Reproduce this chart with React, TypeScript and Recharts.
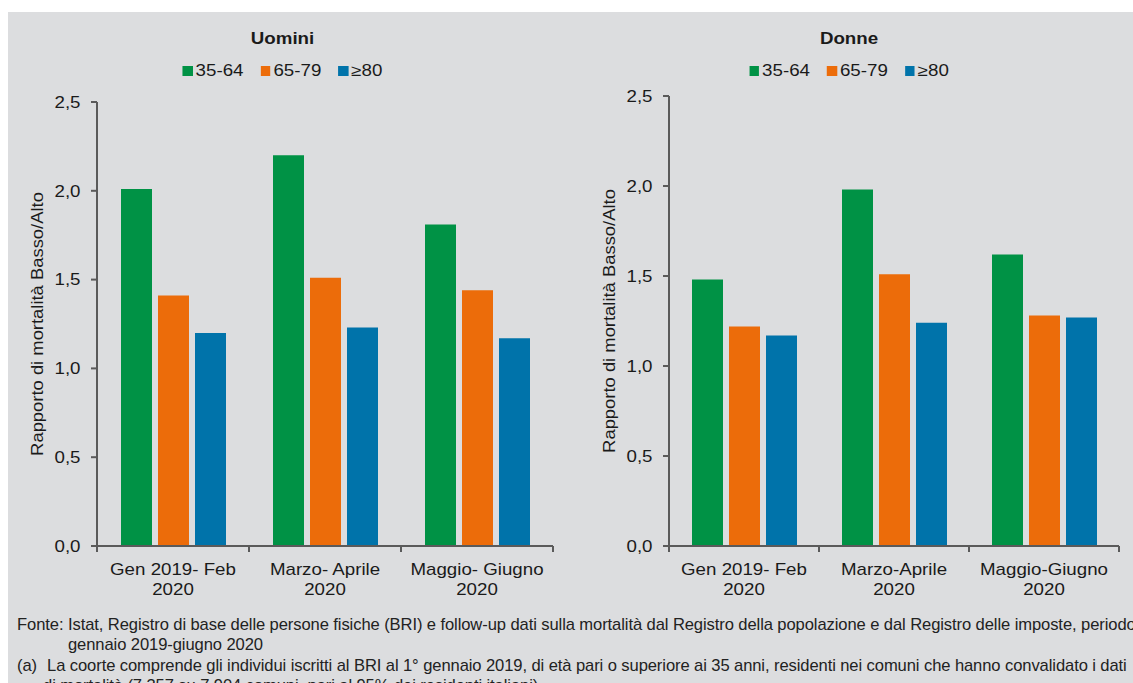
import { BarChart, Bar, XAxis, YAxis, Legend } from "recharts"

// age classes and periods
const ageGroups = ["35-64", "65-79", "≥80"]
const periodsUomini = ["Gen 2019- Feb 2020", "Marzo- Aprile 2020", "Maggio- Giugno 2020"]
const periodsDonne = ["Gen 2019- Feb 2020", "Marzo-Aprile 2020", "Maggio-Giugno 2020"]

// rapporto di mortalità basso/alto
const uomini3564 = [2.01, 2.2, 1.81]
const uomini6579 = [1.41, 1.51, 1.44]
const uomini80 = [1.2, 1.23, 1.17]
const donne3564 = [1.48, 1.98, 1.62]
const donne6579 = [1.22, 1.51, 1.28]
const donne80 = [1.17, 1.24, 1.27]

const yTicks = [0, 0.5, 1, 1.5, 2, 2.5]

const colors = ["#009245", "#ec6c0a", "#0073aa"]
const GRAY = "#dcdddf"
const AXIS = "#5a5a5a"
const TEXT = "#1a1a1a"
const FONT = '"Liberation Sans", Arial, sans-serif'
const SX = 1.17

const fmt = (v: number) => v.toFixed(1).replace(".", ",")

function XTick(props: any) {
  const { x, y, payload, index, visibleTicksCount, width } = props
  const half = payload?.offset ?? width / visibleTicksCount / 2
  const label = String(payload.value)
  const cut = label.lastIndexOf(" ")
  const lines = [label.slice(0, cut), label.slice(cut + 1)]
  return (
    <g>
      <line x1={x - half} x2={x - half} y1={y} y2={y + 6} stroke={AXIS} strokeWidth={2} />
      {index === visibleTicksCount - 1 && (
        <line x1={x + half} x2={x + half} y1={y} y2={y + 6} stroke={AXIS} strokeWidth={2} />
      )}
      {lines.map((l, i) => (
        <text
          key={i}
          transform={`translate(${x} ${y + 28.5 + i * 20}) scale(${SX} 1)`}
          textAnchor="middle"
          fontSize={16}
          fontFamily={FONT}
          fill={TEXT}
        >
          {l}
        </text>
      ))}
    </g>
  )
}

function YTick(props: any) {
  const { x, y, payload } = props
  return (
    <text
      transform={`translate(${x} ${y}) scale(${SX} 1)`}
      textAnchor="end"
      dy="0.36em"
      fontSize={16}
      fontFamily={FONT}
      fill={TEXT}
    >
      {fmt(payload.value)}
    </text>
  )
}

function YLabel(props: any) {
  const vb = props.viewBox
  if (!vb) return null
  const cx = vb.x + 6
  const cy = vb.y + vb.height / 2
  return (
    <text
      transform={`translate(${cx} ${cy}) rotate(-90) scale(1.15 1)`}
      textAnchor="middle"
      fontSize={16}
      fontFamily={FONT}
      fill={TEXT}
    >
      Rapporto di mortalità Basso/Alto
    </text>
  )
}

const legendContent = (title: string) => (props: any) => {
  const items = props.payload ?? []
  return (
    <div style={{ transform: `scaleX(${SX})`, color: TEXT, fontFamily: FONT, textAlign: "center" }}>
      <div style={{ fontWeight: "bold", fontSize: 16, lineHeight: "20px" }}>{title}</div>
      <div style={{ display: "flex", justifyContent: "center", marginTop: 12, fontSize: 16, lineHeight: "20px" }}>
        {items.map((it: any, i: number) => (
          <div key={i} style={{ display: "flex", alignItems: "center", marginLeft: i ? 14.5 : 0 }}>
            <span style={{ display: "inline-block", width: 8.5, height: 10, background: it.color, marginRight: 2.6 }} />
            <span>{it.value}</span>
          </div>
        ))}
      </div>
    </div>
  )
}

function Panel(props: any) {
  const { title, periods, series, left, width, margin, legendWidth } = props
  const data = periods.map((period: string, i: number) => ({
    period,
    g0: series[0][i],
    g1: series[1][i],
    g2: series[2][i],
  }))
  return (
    <div style={{ position: "absolute", left, top: 0 }}>
      <BarChart width={width} height={610} data={data} margin={margin} barSize={31} barGap={6}>
        <Legend
          verticalAlign="middle"
          align="center"
          layout="horizontal"
          wrapperStyle={{ top: 28.5, left: 0, width: legendWidth }}
          content={legendContent(title)}
        />
        <XAxis
          dataKey="period"
          axisLine={{ stroke: AXIS, strokeWidth: 2 }}
          tickLine={false}
          tickSize={0}
          tickMargin={0}
          height={60}
          interval={0}
          tick={(p: any) => <XTick {...p} />}
        />
        <YAxis
          domain={[0, 2.5]}
          ticks={yTicks}
          interval={0}
          width={60}
          axisLine={{ stroke: AXIS, strokeWidth: 2 }}
          tickLine={{ stroke: AXIS, strokeWidth: 2 }}
          tickSize={6}
          tickMargin={10.5}
          tick={(p: any) => <YTick {...p} />}
          label={(p: any) => <YLabel {...p} />}
        />
        {ageGroups.map((name, k) => (
          <Bar key={name} dataKey={`g${k}`} name={name} fill={colors[k]} isAnimationActive={false} />
        ))}
      </BarChart>
    </div>
  )
}

const footStyle = {
  fontFamily: FONT,
  fontSize: 17,
  lineHeight: "20px",
  color: "#222",
  whiteSpace: "nowrap" as const,
}

export default function App() {
  return (
    <div style={{ position: "relative", width: 1133, height: 683, overflow: "hidden" }}>
      <style>{"html,body{margin:0;overflow:hidden}"}</style>
      <div style={{ position: "absolute", left: 8, top: 12, width: 1125, height: 671, background: GRAY }} />
      <Panel
        title="Uomini"
        periods={periodsUomini}
        series={[uomini3564, uomini6579, uomini80]}
        left={0}
        width={570}
        margin={{ top: 102, right: 17, bottom: 4, left: 37 }}
        legendWidth={565}
      />
      <Panel
        title="Donne"
        periods={periodsDonne}
        series={[donne3564, donne6579, donne80]}
        left={575}
        width={558}
        margin={{ top: 96, right: 14, bottom: 4, left: 34 }}
        legendWidth={548}
      />
      <div
        style={{
          position: "absolute",
          left: 17,
          top: 615,
          transformOrigin: "0 0",
          transform: "scaleX(0.975)",
          letterSpacing: -0.1,
          ...footStyle,
        }}
      >
        <div style={{ display: "flex" }}>
          <span style={{ width: 52.3, flexShrink: 0 }}>Fonte:</span>
          <div>
            <div>
              Istat, Registro di base delle persone fisiche (BRI) e follow-up dati sulla mortalità dal Registro della
              popolazione e dal Registro delle imposte, periodo
            </div>
            <div>gennaio 2019-giugno 2020</div>
          </div>
        </div>
        <div style={{ display: "flex", marginTop: 1 }}>
          <span style={{ width: 30.8, flexShrink: 0 }}>(a)</span>
          <div>
            <div>
              La coorte comprende gli individui iscritti al BRI al 1° gennaio 2019, di età pari o superiore ai 35 anni,
              residenti nei comuni che hanno convalidato i dati
            </div>
            <div style={{ marginLeft: -4.1 }}>di mortalità (7.357 su 7.904 comuni, pari al 95% dei residenti italiani)</div>
          </div>
        </div>
      </div>
    </div>
  )
}
